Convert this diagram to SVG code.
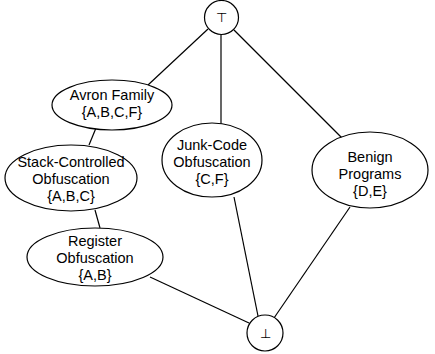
<svg xmlns="http://www.w3.org/2000/svg" width="435" height="354" viewBox="0 0 435 354">
<style>
.n{fill:#fff;stroke:#000;stroke-width:1.2}
.e{stroke:#000;stroke-width:1.2;fill:none}
text{font-family:"Liberation Sans",Arial,sans-serif;font-size:14.5px;text-anchor:middle;fill:#000}
</style>
<rect width="435" height="354" fill="#fff"/>
<g id="connectors">
<line class="e" x1="208" y1="29" x2="148" y2="85"/>
<line class="e" x1="221" y1="35" x2="221" y2="124"/>
<line class="e" x1="234" y1="30" x2="343" y2="139"/>
<line class="e" x1="96" y1="128" x2="89" y2="145"/>
<line class="e" x1="95" y1="210" x2="100" y2="228"/>
<line class="e" x1="150" y1="277" x2="249" y2="323"/>
<line class="e" x1="234" y1="197" x2="258" y2="316"/>
<line class="e" x1="350" y1="207" x2="274" y2="318"/>
</g>
<g id="top"><circle class="n" cx="221.5" cy="17.5" r="17"/><text x="221.5" y="22" style="font-size:13px">⊤</text></g>
<g id="avron"><ellipse class="n" cx="112" cy="105" rx="60" ry="25"/><text x="112" y="100">Avron Family</text><text x="112" y="117">{A,B,C,F}</text></g>
<g id="stack"><ellipse class="n" cx="71" cy="178" rx="66" ry="33"/><text x="71" y="167">Stack-Controlled</text><text x="71" y="184">Obfuscation</text><text x="71" y="201">{A,B,C}</text></g>
<g id="junk"><ellipse class="n" cx="212" cy="160" rx="50" ry="37"/><text x="212" y="150">Junk-Code</text><text x="212" y="167">Obfuscation</text><text x="212" y="184">{C,F}</text></g>
<g id="benign"><ellipse class="n" cx="370" cy="170" rx="58" ry="38"/><text x="370" y="162">Benign</text><text x="370" y="179">Programs</text><text x="370" y="196">{D,E}</text></g>
<g id="register"><ellipse class="n" cx="95" cy="257" rx="68" ry="29"/><text x="95" y="246">Register</text><text x="95" y="263">Obfuscation</text><text x="95" y="280">{A,B}</text></g>
<g id="bottom"><circle class="n" cx="265" cy="333" r="18"/><text x="265" y="338" style="font-size:13px">⊥</text></g>
</svg>
